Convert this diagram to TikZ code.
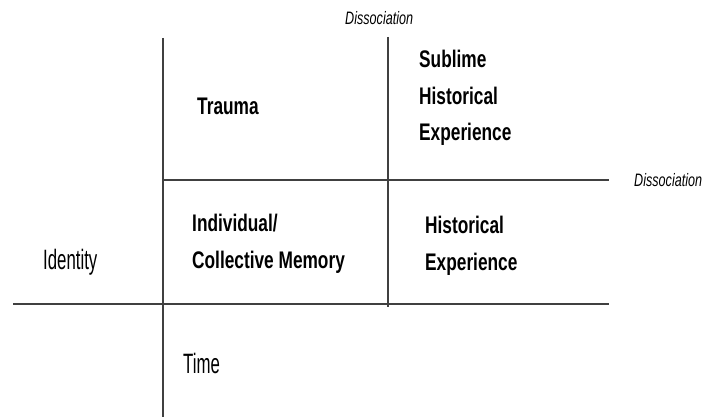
\documentclass[tikz,border=0pt]{standalone}
\usepackage{fontspec}
\usepackage{tikz}
\usetikzlibrary{positioning}
\newfontfamily\cellfont[FakeStretch=0.72]{Liberation Sans}
\newfontfamily\axisfont[FakeStretch=0.6]{Liberation Sans}
\newfontfamily\tagfont[FakeStretch=0.7]{Liberation Sans}

\begin{document}
\begin{tikzpicture}[x=1pt, y=-1pt]

	\tikzstyle{cell} = [inner sep=0pt, anchor=north west, align=left, font=\cellfont\bfseries\fontsize{24}{36.5}\selectfont]

	\tikzstyle{axis} = [inner sep=0pt, anchor=base west, font=\axisfont\fontsize{28}{30}\selectfont]

	\tikzstyle{tag} = [inner sep=0pt, anchor=base west, font=\tagfont\itshape\fontsize{18}{20}\selectfont]

	\tikzstyle{rule} = [draw, line width=1.3pt, black!75]

	\useasboundingbox (0,0) rectangle (704,417);

	\coordinate (left top) at (163,38);
	\coordinate (left bottom) at (163,417);
	\coordinate (mid top) at (388,37);
	\coordinate (mid bottom) at (388,307);
	\coordinate (middle start) at (163,180);
	\coordinate (middle end) at (609,180);
	\coordinate (lower start) at (13,304);
	\coordinate (lower end) at (609,304);

	\node[tag] (dissociation top) at (345,25) {Dissociation};
	\node[tag] (dissociation right) at (634,186) {Dissociation};

	\node[cell] (trauma) at (197,98) {Trauma};
	\node[cell] (sublime) at (419,50) {Sublime\\Historical\\Experience};
	\node[cell] (memory) at (192,214) {Individual/\\Collective Memory};
	\node[cell] (experience) at (425,216) {Historical\\Experience};

	\node[axis] (identity) at (43,269) {Identity};
	\node[axis] (time) at (183,373) {Time};

	\path [rule] (left top) -- (left bottom);
	\path [rule] (mid top) -- (mid bottom);
	\path [rule] (middle start) -- (middle end);
	\path [rule] (lower start) -- (lower end);

\end{tikzpicture}
\end{document}
